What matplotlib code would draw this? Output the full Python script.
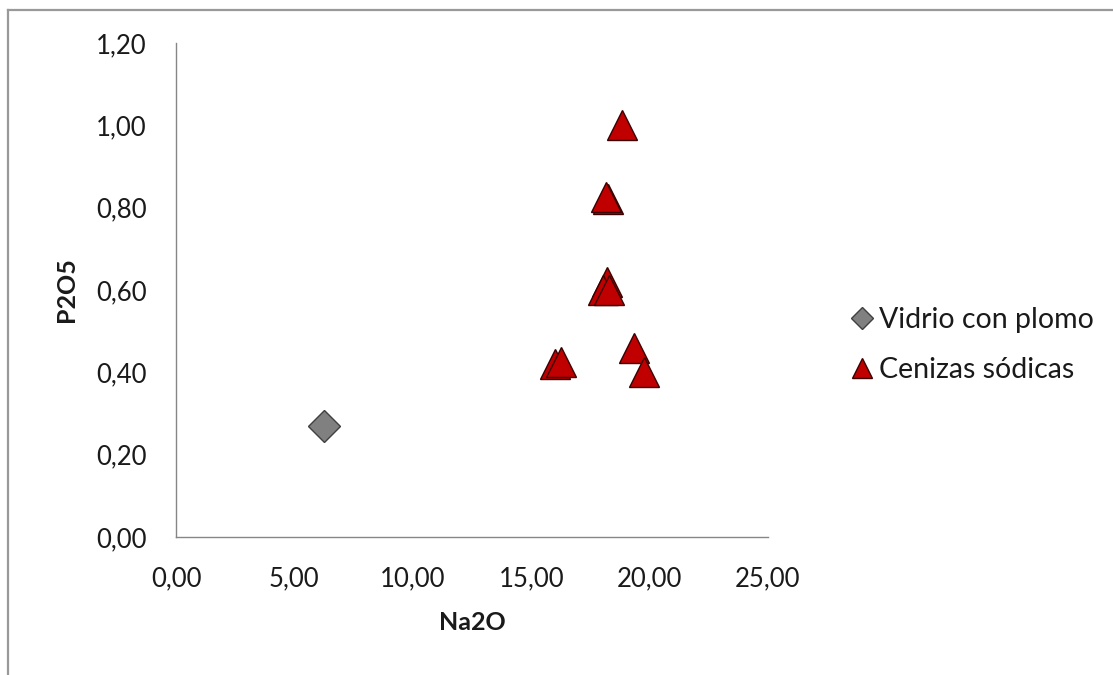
import numpy as np
import matplotlib.pyplot as plt
from matplotlib.lines import Line2D
from matplotlib.ticker import FuncFormatter

# Vidrio con plomo
vidrio_na2o = [6.25]
vidrio_p2o5 = [0.27]

# Cenizas sódicas
cenizas_na2o = [18.85, 18.25, 18.15, 18.2, 18.05, 18.3, 16.0, 16.25, 19.35, 19.75]
cenizas_p2o5 = [1.00, 0.82, 0.825, 0.62, 0.60, 0.60, 0.42, 0.425, 0.46, 0.40]

xticks = [0, 5, 10, 15, 20, 25]
yticks = [0, 0.2, 0.4, 0.6, 0.8, 1.0, 1.2]

plt.rcParams['font.family'] = ['Lato', 'DejaVu Sans']

W, H = 1113, 675
fig = plt.figure(figsize=(W / 100, H / 100), dpi=100)
ax = fig.add_axes([176 / W, 1 - 537 / H, 592 / W, 494 / H])

ax.plot(vidrio_na2o, vidrio_p2o5, linestyle='none', marker='D', markersize=16.5,
        markerfacecolor='#808080', markeredgecolor='#404040', markeredgewidth=1,
        label='Vidrio con plomo', zorder=3)
ax.plot(cenizas_na2o, cenizas_p2o5, linestyle='none', marker='^', markersize=22,
        markerfacecolor='#C00000', markeredgecolor='#3a0000', markeredgewidth=1,
        label='Cenizas sódicas', zorder=3)

ax.set_xlim(0, 25)
ax.set_ylim(0, 1.2)
ax.set_xticks(xticks)
ax.set_yticks(yticks)
fmt = FuncFormatter(lambda v, p: ('%.2f' % v).replace('.', ','))
ax.xaxis.set_major_formatter(fmt)
ax.yaxis.set_major_formatter(fmt)
ax.tick_params(axis='both', length=0, labelsize=18.5, colors='#1a1a1a')
ax.tick_params(axis='x', pad=21)
ax.tick_params(axis='y', pad=21)

for s in ['top', 'right']:
    ax.spines[s].set_visible(False)
for s in ['left', 'bottom']:
    ax.spines[s].set_color('#868686')
    ax.spines[s].set_linewidth(1)

ax.set_xlabel('Na2O', fontsize=18, fontweight='bold', labelpad=14, color='#1a1a1a')
ax.set_ylabel('P2O5', fontsize=18, fontweight='bold', labelpad=13, color='#1a1a1a')

leg = ax.legend(loc='center left', bbox_to_anchor=(828 / W, 1 - 345 / H),
                bbox_transform=fig.transFigure, frameon=False, fontsize=20.5,
                markerscale=0.65, handlelength=0.6, handletextpad=0.3,
                labelspacing=0.85)
for t in leg.get_texts():
    t.set_color('#1a1a1a')

# outer chart frame (top and left edges visible)
fig.add_artist(Line2D([8 / W, 1], [1 - 10 / H, 1 - 10 / H], color='#999999', linewidth=1.6))
fig.add_artist(Line2D([8 / W, 8 / W], [0, 1 - 10 / H], color='#999999', linewidth=1.6))

fig.savefig('out.png', dpi=100)
